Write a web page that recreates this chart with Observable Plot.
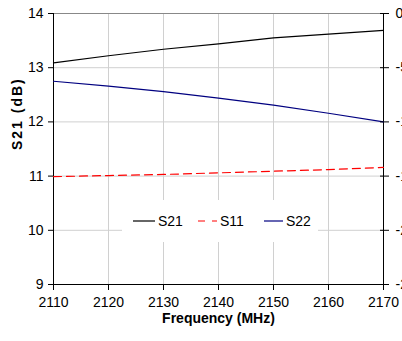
<!DOCTYPE html>
<html>
<head>
<meta charset="utf-8">
<script src="https://cdn.jsdelivr.net/npm/d3@7"></script>
<script src="https://cdn.jsdelivr.net/npm/@observablehq/plot@0.6"></script>
<style>
  html, body { margin: 0; padding: 0; background: #fff; overflow: hidden; }
  #wrap { position: relative; width: 402px; height: 341px; overflow: hidden; font-family: "Liberation Sans", Arial, sans-serif; }
  #wrap svg { overflow: hidden; display: block; }
  .ylab text { letter-spacing: 2px; }
  #legend { position: absolute; left: 122px; top: 200px; width: 196px; height: 42px; background: #fff; }
  #legend .item { position: absolute; top: 0; height: 42px; display: flex; align-items: center; font-size: 14px; color: #000; }
  #legend svg { margin-right: 1px; }
</style>
</head>
<body>
<div id="wrap"></div>
<script>
// ---- data ----
const freq = [2110, 2120, 2130, 2140, 2150, 2160, 2170];
const s21 = [13.09, 13.22, 13.34, 13.44, 13.55, 13.62, 13.69];     // left axis, dB
const s11 = [-15.05, -14.95, -14.85, -14.7, -14.55, -14.4, -14.2]; // right axis, dB
const s22 = [-6.25, -6.7, -7.2, -7.8, -8.45, -9.2, -10.0];         // right axis, dB
const xTicks = [2110, 2120, 2130, 2140, 2150, 2160, 2170];
const leftTicks = [9, 10, 11, 12, 13, 14];
const rightTicks = [0, -5, -10, -15, -20, -25];
const seriesNames = ["S21", "S11", "S22"];
const colors = ["#000000", "#ff0000", "#000080"];

// right axis [0,-25] maps onto left axis [14,9]
const toLeft = v => leftTicks[leftTicks.length - 1] + v * (leftTicks[leftTicks.length - 1] - leftTicks[0]) / (rightTicks[0] - rightTicks[rightTicks.length - 1]);
const fromLeft = y => Math.round((y - leftTicks[leftTicks.length - 1]) * (rightTicks[0] - rightTicks[rightTicks.length - 1]) / (leftTicks[leftTicks.length - 1] - leftTicks[0]));

const d21 = freq.map((f, i) => ({f, v: s21[i]}));
const d11 = freq.map((f, i) => ({f, v: toLeft(s11[i])}));
const d22 = freq.map((f, i) => ({f, v: toLeft(s22[i])}));
const rightPos = rightTicks.map(toLeft);

const fs = 14;
const chart = Plot.plot({
  width: 402,
  height: 341,
  marginTop: 13,
  marginBottom: 57,
  marginLeft: 53,
  marginRight: 19,
  x: {domain: [xTicks[0], xTicks[xTicks.length - 1]]},
  y: {domain: [leftTicks[0], leftTicks[leftTicks.length - 1]]},
  style: {fontFamily: "'Liberation Sans', Arial, sans-serif", fontSize: "14px", color: "#000", background: "#fff", overflow: "hidden"},
  marks: [
    Plot.gridX(xTicks, {stroke: "#d0d0d0", strokeOpacity: 1}),
    Plot.gridY(leftTicks, {stroke: "#d0d0d0", strokeOpacity: 1}),
    Plot.ruleY([leftTicks[leftTicks.length - 1]], {stroke: "#888888"}),
    Plot.ruleY([leftTicks[0]], {stroke: "#000"}),
    Plot.ruleX([xTicks[0], xTicks[xTicks.length - 1]], {stroke: "#000"}),
    Plot.line(d11, {x: "f", y: "v", stroke: colors[1], strokeWidth: 1.2, strokeDasharray: "8,5"}),
    Plot.line(d22, {x: "f", y: "v", stroke: colors[2], strokeWidth: 1.2}),
    Plot.line(d21, {x: "f", y: "v", stroke: colors[0], strokeWidth: 1.2}),
    Plot.axisX(xTicks, {anchor: "bottom", tickSize: 6, tickPadding: 7, fontSize: fs, label: null, stroke: "#000", tickFormat: d => String(d)}),
    Plot.axisY(leftTicks, {anchor: "left", tickSize: 5, tickPadding: 5, fontSize: fs, label: null, stroke: "#000", tickFormat: d => String(d)}),
    Plot.axisY(rightPos, {anchor: "right", tickSize: 9, tickPadding: 7, dx: -4, fontSize: fs, tickFormat: d => String(fromLeft(d)), label: null, stroke: "#000"}),
    Plot.text(["Frequency (MHz)"], {frameAnchor: "bottom", dy: 38, fontWeight: "bold", fontSize: fs}),
    Plot.text(["S21 (dB)"], {frameAnchor: "left", dx: -36, dy: 1, rotate: -90, fontWeight: "bold", fontSize: fs, className: "ylab"})
  ]
});
const wrap = document.getElementById("wrap");
wrap.appendChild(chart);

// legend
const legend = document.createElement("div");
legend.id = "legend";
const itemPos = [11, 76, 142];
const lineW = [22, 19, 19];
seriesNames.forEach((name, i) => {
  const it = document.createElement("div");
  it.className = "item";
  it.style.left = itemPos[i] + "px";
  const dash = i === 1 ? ' stroke-dasharray="7,7"' : '';
  it.innerHTML = `<svg width="${lineW[i] + 2}" height="4"><line x1="0" x2="${lineW[i]}" y1="2" y2="2" stroke="${colors[i]}" stroke-width="1.2"${dash}/></svg><span>${name}</span>`;
  legend.appendChild(it);
});
wrap.appendChild(legend);
</script>
</body>
</html>
